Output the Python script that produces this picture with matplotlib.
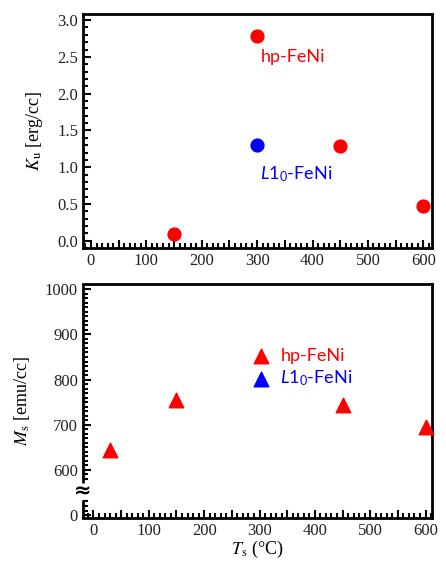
import matplotlib
matplotlib.use("Agg")
import matplotlib.pyplot as plt
from matplotlib.ticker import MultipleLocator, FixedLocator, FuncFormatter

# anisotropy data (top panel)
ku_hp_T = [150, 300, 450, 600]
ku_hp = [0.09, 2.78, 1.29, 0.47]
ku_l10_T = [300]
ku_l10 = [1.30]

# saturation magnetisation data (bottom panel)
ms_hp_T = [30, 150, 450, 600]
ms_hp = [645, 755, 744, 696]

# broken axis: "0" is drawn at axis position 500
ms_ticks = [500, 600, 700, 800, 900, 1000]
ms_ticklabels = ["0", "600", "700", "800", "900", "1000"]

RED = "#ff0000"
BLUE = "#0000ff"
TICKCOL = "#222222"

plt.rcParams["font.family"] = ["Liberation Serif", "DejaVu Serif"]
plt.rcParams["mathtext.fontset"] = "custom"
plt.rcParams["mathtext.rm"] = "Lato"
plt.rcParams["mathtext.it"] = "Lato:italic"
plt.rcParams["mathtext.bf"] = "Lato:bold"

SANS = ["Lato", "DejaVu Sans"]


def style_axes(ax):
    for s in ax.spines.values():
        s.set_linewidth(2.0)
    ax.tick_params(which="both", direction="in", top=False, right=False,
                   labelsize=12, labelcolor=TICKCOL, width=1.5)
    ax.tick_params(which="major", length=6)
    ax.tick_params(which="minor", length=3.5)
    ax.xaxis.set_major_locator(MultipleLocator(50))
    ax.xaxis.set_minor_locator(MultipleLocator(10))
    ax.xaxis.set_major_formatter(FuncFormatter(lambda v, p: "%d" % v if round(v) % 100 == 0 else ""))


fig = plt.figure(figsize=(4.46, 5.68), dpi=100)

# ---------------- top: Ku ----------------
ax1 = fig.add_axes([0.186, 0.563, 0.783, 0.412])
ax1.scatter(ku_hp_T, ku_hp, s=85, marker="o", color=RED, zorder=3, clip_on=False)
ax1.scatter(ku_l10_T, ku_l10, s=85, marker="o", color=BLUE, zorder=3, clip_on=False)
ax1.set_xlim(-14.5, 616)
ax1.set_ylim(-0.1, 3.08)
style_axes(ax1)
ax1.yaxis.set_major_locator(MultipleLocator(0.5))
ax1.yaxis.set_minor_locator(MultipleLocator(0.1))
ax1.yaxis.set_major_formatter(FuncFormatter(lambda v, p: "%.1f" % v))
ax1.set_ylabel(r"$K_\mathrm{u}$ [erg/cc]", fontsize=13, math_fontfamily="stix", labelpad=9)
ax1.text(306, 2.50, "hp-FeNi", color=RED, fontsize=13, family=SANS, ha="left", va="center")
ax1.text(305, 0.91, r"$\mathit{L}$1$_\mathrm{0}$-FeNi", color=BLUE, fontsize=13, family=SANS,
         ha="left", va="center")

# ---------------- bottom: Ms ----------------
ax2 = fig.add_axes([0.186, 0.088, 0.783, 0.412])
ax2.scatter(ms_hp_T, ms_hp, s=110, marker="^", color=RED, zorder=3, label="hp-FeNi", clip_on=False)
ax2.scatter([], [], s=110, marker="^", color=BLUE, label=r"$\mathit{L}$1$_\mathrm{0}$-FeNi")
ax2.set_xlim(-19, 612)
ax2.set_ylim(493.4, 1011.7)
style_axes(ax2)
ax2.yaxis.set_major_locator(FixedLocator(ms_ticks))
ax2.set_yticklabels(ms_ticklabels)
ax2.yaxis.set_minor_locator(FixedLocator([510, 520, 530] + [v for v in range(580, 1001, 10) if v % 100]))

# broken left spine
ax2.spines["left"].set_visible(False)
yt = ax2.get_yaxis_transform()
ax2.plot([0, 0], [493.4, 534], transform=yt, color="k", lw=2.0, clip_on=False, solid_capstyle="butt")
ax2.plot([0, 0], [571, 1011.7], transform=yt, color="k", lw=2.0, clip_on=False, solid_capstyle="butt")
ax2.text(0, 552, "\u2248", transform=yt, fontsize=15, fontweight="bold", family="DejaVu Sans",
         ha="center", va="center")

ax2.set_ylabel(r"$M_\mathrm{s}$ [emu/cc]", fontsize=13, math_fontfamily="stix", labelpad=9)
ax2.set_xlabel(r"$T_\mathrm{s}$ (°C)", fontsize=13, math_fontfamily="stix", labelpad=0)

leg = ax2.legend(loc="upper left", bbox_to_anchor=(0.457, 0.765), frameon=False,
                 prop={"family": SANS, "size": 13}, handletextpad=0.6, labelspacing=0.25,
                 borderpad=0, handlelength=1.0)
for t, c in zip(leg.get_texts(), [RED, BLUE]):
    t.set_color(c)

fig.savefig("out.png", dpi=100)
